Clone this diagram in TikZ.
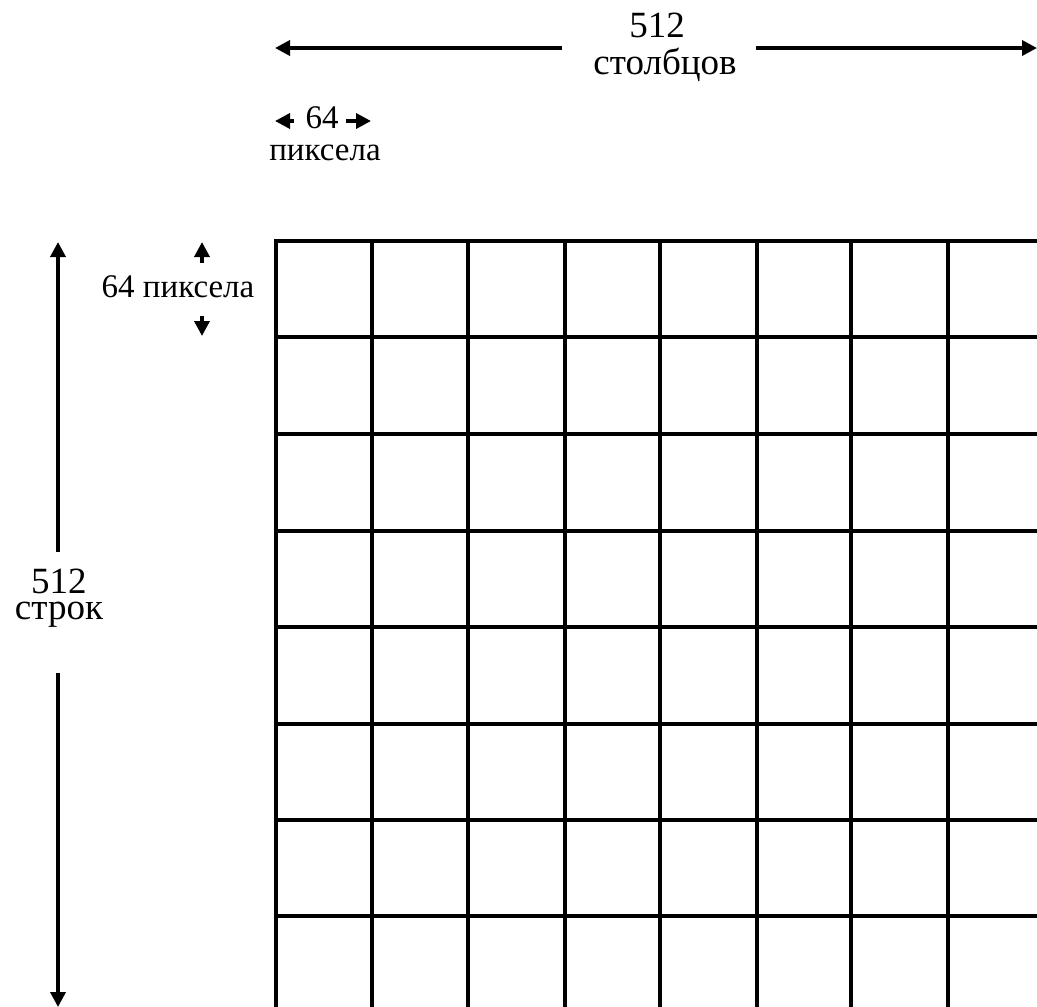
\documentclass[tikz,border=0pt]{standalone}
\usepackage{fontspec}
\setmainfont{Liberation Serif}
\usetikzlibrary{arrows.meta}
\begin{document}
\begin{tikzpicture}[x=1pt,y=-1pt,
  gridline/.style={line width=3.5pt},
  dimarrow/.style={line width=3.5pt,-{Triangle[length=15pt,width=15pt]}},
  biglabel/.style={anchor=base,inner sep=0pt,font=\fontsize{37}{40}\selectfont},
  smalllabel/.style={anchor=base,inner sep=0pt,font=\fontsize{33}{36}\selectfont}]
\useasboundingbox (0,0) rectangle (1037,1007);
\clip (0,0) rectangle (1037,1007);
% grid
\foreach \x in {276,372,468,565,660,757,851,948}
  \draw[gridline] (\x,241) -- (\x,1010);
\foreach \y in {241,337,434,531,627,724,820,916}
  \draw[gridline] (274.25,\y) -- (1040,\y);
% top dimension
\node[biglabel] (n512c) at (657,37) {512};
\node[biglabel] (cols) at (665,74) {столбцов};
\coordinate (tl) at (275,48);
\coordinate (tr) at (1037,48);
\coordinate (tlm) at (562,48);
\coordinate (trm) at (756,48);
\draw[dimarrow] (tlm) -- (tl);
\draw[dimarrow] (trm) -- (tr);
% small top dimension
\node[smalllabel] (n64a) at (322,128) {64};
\node[smalllabel] (pixa) at (325,160) {пиксела};
\coordinate (sa1) at (294,121);
\coordinate (sa1t) at (275,121);
\coordinate (sa2) at (346,121);
\coordinate (sa2t) at (371,121);
\draw[dimarrow] (sa1) -- (sa1t);
\draw[dimarrow] (sa2) -- (sa2t);
% left small dimension
\node[smalllabel] (pixb) at (178,297) {64 пиксела};
\coordinate (su) at (202,263);
\coordinate (sut) at (202,242);
\coordinate (sd) at (202,316);
\coordinate (sdt) at (202,336);
\draw[dimarrow] (su) -- (sut);
\draw[dimarrow] (sd) -- (sdt);
% left big dimension
\node[anchor=base,inner sep=0pt] (rows) at (59,619)
  {\fontsize{37}{26}\selectfont\setlength{\tabcolsep}{0pt}%
   \begin{tabular}[b]{c}512\\строк\end{tabular}};
\coordinate (lu) at (58,552);
\coordinate (lut) at (58,242);
\coordinate (ld) at (58,673);
\coordinate (ldt) at (58,1007);
\draw[dimarrow] (lu) -- (lut);
\draw[dimarrow] (ld) -- (ldt);
\end{tikzpicture}
\end{document}
